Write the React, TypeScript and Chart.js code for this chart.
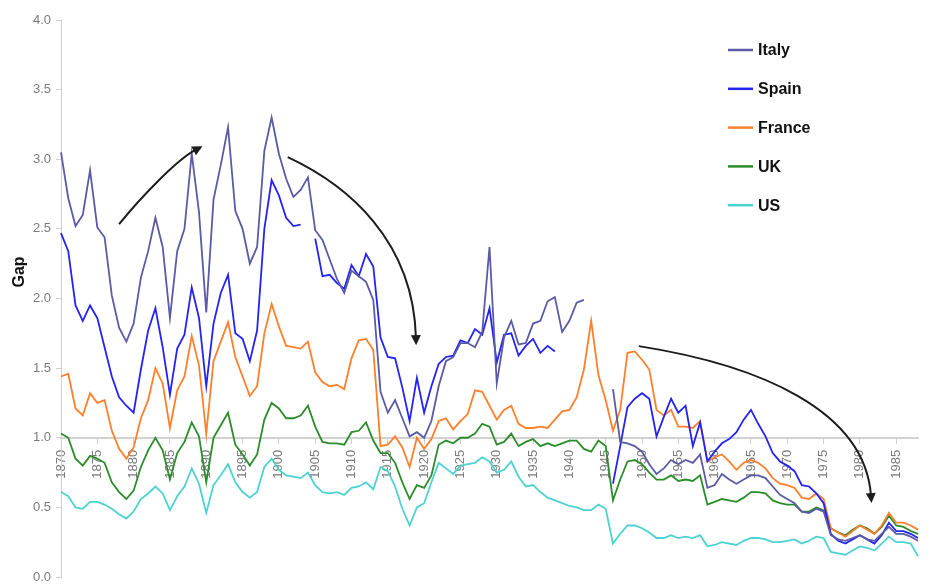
import React, { useEffect, useRef } from 'react';
import { Chart, registerables } from 'chart.js';

Chart.register(...registerables);

const FONT = '"Liberation Sans", Arial, Helvetica, sans-serif';

// Categories: one per year, 1870 – 1988
const YEARS: string[] = Array.from({ length: 119 }, (_, i) => String(1870 + i));
const X_TICK_LABELS = ['1870', '1875', '1880', '1885', '1890', '1895', '1900', '1905', '1910', '1915', '1920', '1925',
  '1930', '1935', '1940', '1945', '1950', '1955', '1960', '1965', '1970', '1975', '1980', '1985'];
const Y_TITLE = 'Gap';

const ITALY: (number | null)[] = [
  3.05, 2.72, 2.52, 2.60, 2.92, 2.51, 2.44, 2.02, 1.79, 1.69,
  1.82, 2.15, 2.34, 2.58, 2.37, 1.86, 2.34, 2.50, 3.04, 2.62,
  1.90, 2.71, 2.96, 3.23, 2.63, 2.50, 2.25, 2.37, 3.06, 3.30,
  3.04, 2.86, 2.73, 2.78, 2.87, 2.49, 2.42, 2.28, 2.14, 2.04,
  2.20, 2.16, 2.12, 1.99, 1.33, 1.18, 1.27, 1.14, 1.01, 1.04,
  1.00, 1.12, 1.37, 1.55, 1.58, 1.68, 1.68, 1.65, 1.76, 2.37,
  1.39, 1.72, 1.84, 1.67, 1.68, 1.82, 1.84, 1.98, 2.01, 1.76,
  1.84, 1.97, 1.99, null, null, null, 1.35, 0.97, 0.96, 0.94,
  0.90, 0.81, 0.74, 0.78, 0.84, 0.81, 0.84, 0.82, 0.88, 0.64,
  0.66, 0.74, 0.70, 0.67, 0.70, 0.73, 0.73, 0.71, 0.65, 0.59,
  0.56, 0.53, 0.47, 0.46, 0.49, 0.47, 0.30, 0.27, 0.26, 0.28,
  0.30, 0.27, 0.26, 0.31, 0.36, 0.31, 0.31, 0.29, 0.26,
];

const SPAIN: (number | null)[] = [
  2.47, 2.34, 1.95, 1.84, 1.95, 1.86, 1.65, 1.44, 1.29, 1.23,
  1.18, 1.49, 1.77, 1.93, 1.65, 1.31, 1.64, 1.74, 2.08, 1.86,
  1.37, 1.82, 2.04, 2.17, 1.75, 1.71, 1.55, 1.77, 2.50, 2.85,
  2.74, 2.58, 2.52, 2.53, null, 2.43, 2.16, 2.17, 2.11, 2.07,
  2.24, 2.16, 2.32, 2.23, 1.72, 1.58, 1.57, 1.36, 1.12, 1.43,
  1.18, 1.37, 1.53, 1.58, 1.59, 1.70, 1.68, 1.78, 1.74, 1.93,
  1.54, 1.74, 1.75, 1.59, 1.66, 1.71, 1.61, 1.66, 1.62, null,
  null, null, null, null, null, null, 0.67, 0.94, 1.22, 1.28,
  1.32, 1.28, 1.01, 1.15, 1.28, 1.18, 1.23, 0.94, 1.11, 0.83,
  0.90, 0.96, 0.99, 1.04, 1.13, 1.20, 1.10, 1.01, 0.89, 0.83,
  0.80, 0.76, 0.66, 0.65, 0.60, 0.53, 0.31, 0.26, 0.24, 0.27,
  0.30, 0.27, 0.24, 0.30, 0.39, 0.33, 0.33, 0.31, 0.28,
];

const FRANCE: (number | null)[] = [
  1.44, 1.46, 1.21, 1.16, 1.32, 1.25, 1.27, 1.05, 0.92, 0.85,
  0.93, 1.14, 1.27, 1.50, 1.39, 1.07, 1.34, 1.44, 1.73, 1.52,
  1.03, 1.55, 1.69, 1.83, 1.58, 1.44, 1.30, 1.37, 1.75, 1.96,
  1.80, 1.66, 1.65, 1.64, 1.69, 1.47, 1.40, 1.37, 1.38, 1.35,
  1.57, 1.70, 1.71, 1.63, 0.94, 0.95, 1.01, 0.93, 0.79, 1.00,
  0.92, 0.99, 1.12, 1.14, 1.06, 1.12, 1.17, 1.34, 1.33, 1.23,
  1.13, 1.20, 1.23, 1.10, 1.07, 1.07, 1.08, 1.07, 1.13, 1.19,
  1.20, 1.29, 1.49, 1.84, 1.45, 1.27, 1.05, 1.20, 1.61, 1.62,
  1.56, 1.49, 1.20, 1.16, 1.20, 1.08, 1.08, 1.07, 1.12, 0.83,
  0.86, 0.88, 0.83, 0.77, 0.82, 0.84, 0.82, 0.78, 0.71, 0.67,
  0.66, 0.64, 0.57, 0.56, 0.60, 0.56, 0.35, 0.32, 0.29, 0.33,
  0.37, 0.34, 0.31, 0.37, 0.46, 0.39, 0.39, 0.37, 0.34,
];

const UK: (number | null)[] = [
  1.03, 1.00, 0.85, 0.80, 0.87, 0.85, 0.82, 0.68, 0.61, 0.56,
  0.62, 0.79, 0.91, 1.00, 0.91, 0.70, 0.89, 0.97, 1.11, 1.01,
  0.68, 1.00, 1.09, 1.18, 0.95, 0.88, 0.80, 0.88, 1.13, 1.25,
  1.21, 1.14, 1.14, 1.16, 1.23, 1.08, 0.97, 0.96, 0.96, 0.95,
  1.04, 1.05, 1.11, 0.98, 0.89, 0.89, 0.82, 0.68, 0.56, 0.66,
  0.64, 0.73, 0.95, 0.98, 0.96, 1.00, 1.00, 1.03, 1.10, 1.08,
  0.95, 0.97, 1.03, 0.94, 0.97, 0.99, 0.94, 0.96, 0.94, 0.96,
  0.98, 0.98, 0.92, 0.90, 0.98, 0.94, 0.55, 0.70, 0.83, 0.84,
  0.81, 0.75, 0.70, 0.70, 0.73, 0.69, 0.70, 0.69, 0.73, 0.52,
  0.54, 0.56, 0.55, 0.54, 0.57, 0.61, 0.61, 0.60, 0.55, 0.53,
  0.52, 0.52, 0.47, 0.47, 0.50, 0.48, 0.35, 0.32, 0.30, 0.34,
  0.37, 0.35, 0.31, 0.36, 0.44, 0.37, 0.36, 0.33, 0.31,
];

const US: (number | null)[] = [
  0.61, 0.58, 0.50, 0.49, 0.54, 0.54, 0.52, 0.49, 0.45, 0.42,
  0.47, 0.56, 0.60, 0.65, 0.60, 0.48, 0.58, 0.65, 0.78, 0.67,
  0.46, 0.66, 0.73, 0.81, 0.68, 0.61, 0.57, 0.61, 0.79, 0.85,
  0.77, 0.73, 0.72, 0.71, 0.75, 0.66, 0.61, 0.60, 0.61, 0.59,
  0.64, 0.65, 0.68, 0.63, 0.79, 0.76, 0.65, 0.49, 0.37, 0.50,
  0.53, 0.68, 0.82, 0.78, 0.74, 0.80, 0.81, 0.82, 0.86, 0.83,
  0.75, 0.77, 0.83, 0.72, 0.65, 0.66, 0.61, 0.57, 0.55, 0.53,
  0.51, 0.50, 0.48, 0.48, 0.52, 0.49, 0.24, 0.31, 0.37, 0.37,
  0.35, 0.32, 0.28, 0.28, 0.30, 0.28, 0.29, 0.28, 0.30, 0.22,
  0.23, 0.25, 0.24, 0.23, 0.26, 0.28, 0.28, 0.27, 0.25, 0.25,
  0.26, 0.27, 0.24, 0.26, 0.29, 0.28, 0.18, 0.17, 0.16, 0.19,
  0.22, 0.21, 0.19, 0.24, 0.29, 0.25, 0.25, 0.24, 0.15,
];

const SERIES_NAMES = ['Italy', 'Spain', 'France', 'UK', 'US'];
const SERIES_DATA = [ITALY, SPAIN, FRANCE, UK, US];
const SERIES_COLORS = ['#5a5aa6', '#2323f2', '#ff7f2a', '#2b8c2b', '#4cd2d0'];

// Annotation arrows: cubic Bézier control points in data space [year, gap]
const ARROWS: [number, number][][] = [
  [[1878.0, 2.534], [1880.77, 2.714], [1885.88, 2.994], [1889.48, 3.094]],
  [[1901.22, 3.015], [1909.5, 2.814], [1918.48, 2.419], [1918.9, 1.665]],
  [[1949.56, 1.658], [1966.13, 1.522], [1980.64, 1.199], [1981.6, 0.531]],
];

const overlayPlugin = {
  id: 'overlay',
  afterDatasetsDraw(chart: any) {
    const { ctx, scales } = chart;
    const xs = scales.x;
    const ys = scales.y;
    const px = (yr: number) => xs.getPixelForValue(yr - 1870);
    const py = (v: number) => ys.getPixelForValue(v);

    // arrows
    ctx.save();
    ctx.strokeStyle = '#1c1c1c';
    ctx.fillStyle = '#1c1c1c';
    ctx.lineWidth = 2;
    for (const arrow of ARROWS) {
      const p = arrow.map(([a, b]) => [px(a), py(b)]);
      const dx = p[3][0] - p[2][0];
      const dy = p[3][1] - p[2][1];
      const len = Math.hypot(dx, dy) || 1;
      const ux = dx / len;
      const uy = dy / len;
      const headLen = 10;
      const headW = 5;
      const bx = p[3][0] - ux * headLen;
      const by = p[3][1] - uy * headLen;
      ctx.beginPath();
      ctx.moveTo(p[0][0], p[0][1]);
      ctx.bezierCurveTo(p[1][0], p[1][1], p[2][0], p[2][1], bx + ux * 2, by + uy * 2);
      ctx.stroke();
      ctx.beginPath();
      ctx.moveTo(p[3][0], p[3][1]);
      ctx.lineTo(bx - uy * headW, by + ux * headW);
      ctx.lineTo(bx + uy * headW, by - ux * headW);
      ctx.closePath();
      ctx.fill();
    }
    ctx.restore();

    // legend
    ctx.save();
    const legendX = 728;
    const legendY0 = 50;
    const legendStep = 38.8;
    ctx.font = `bold 16px ${FONT}`;
    ctx.textBaseline = 'middle';
    ctx.textAlign = 'left';
    SERIES_NAMES.forEach((name, i) => {
      const yy = legendY0 + i * legendStep;
      ctx.strokeStyle = SERIES_COLORS[i];
      ctx.lineWidth = 2.5;
      ctx.beginPath();
      ctx.moveTo(legendX, yy);
      ctx.lineTo(legendX + 25, yy);
      ctx.stroke();
      ctx.fillStyle = '#111';
      ctx.fillText(name, legendX + 30, yy + 1);
    });
    ctx.restore();

    // y-axis title
    ctx.save();
    ctx.translate(19.5, 272);
    ctx.rotate(-Math.PI / 2);
    ctx.font = `bold 16px ${FONT}`;
    ctx.fillStyle = '#111';
    ctx.textAlign = 'center';
    ctx.textBaseline = 'middle';
    ctx.fillText(Y_TITLE, 0, 0);
    ctx.restore();
  },
};

export default function App() {
  const canvasRef = useRef<HTMLCanvasElement | null>(null);

  useEffect(() => {
    const canvas = canvasRef.current;
    if (!canvas) return;
    const chart = new Chart(canvas, {
      type: 'line',
      data: {
        labels: YEARS,
        datasets: SERIES_NAMES.map((name, i) => ({
          label: name,
          data: SERIES_DATA[i],
          borderColor: SERIES_COLORS[i],
          backgroundColor: SERIES_COLORS[i],
          borderWidth: 1.8,
          pointRadius: 0,
          pointHoverRadius: 0,
          tension: 0,
          spanGaps: false,
          fill: false,
        })),
      },
      options: {
        animation: false,
        responsive: false,
        maintainAspectRatio: false,
        devicePixelRatio: 1,
        layout: { padding: { left: 0, right: 12, top: 20, bottom: 7 } },
        plugins: {
          legend: { display: false },
          tooltip: { enabled: false },
          title: { display: false },
        },
        scales: {
          x: {
            type: 'category',
            position: { y: 1 },
            afterFit: (scale: any) => {
              scale.height = 0;
              scale.paddingTop = 0;
              scale.paddingBottom = 0;
              scale.paddingLeft = 0;
              scale.paddingRight = 0;
            },
            grid: {
              display: true,
              drawOnChartArea: false,
              drawTicks: true,
              tickLength: 5,
              color: '#cfcfcf',
            },
            border: { display: true, color: '#d2d2d2', width: 2 },
            ticks: {
              autoSkip: false,
              minRotation: 90,
              maxRotation: 90,
              padding: 7,
              color: '#7a7a7a',
              font: { family: FONT, size: 13 },
              callback: (_v: any, index: number) =>
                X_TICK_LABELS.includes(YEARS[index]) ? YEARS[index] : null,
            },
          },
          y: {
            type: 'linear',
            position: 'left',
            min: 0,
            max: 4,
            afterFit: (scale: any) => {
              scale.width = 61;
              scale.paddingTop = 0;
              scale.paddingBottom = 0;
            },
            grid: {
              display: true,
              drawOnChartArea: false,
              drawTicks: true,
              tickLength: 5,
              color: '#cfcfcf',
            },
            border: { display: true, color: '#cfcfcf', width: 1 },
            ticks: {
              stepSize: 0.5,
              padding: 5,
              color: '#7a7a7a',
              font: { family: FONT, size: 13 },
              callback: (v: any) => Number(v).toFixed(1),
            },
          },
        },
      },
      plugins: [overlayPlugin],
    });
    return () => chart.destroy();
  }, []);

  return (
    <div style={{ position: 'absolute', left: 0, top: 0, width: 930, height: 584, background: '#fff' }}>
      <canvas ref={canvasRef} width={930} height={584} style={{ display: 'block' }} />
    </div>
  );
}
